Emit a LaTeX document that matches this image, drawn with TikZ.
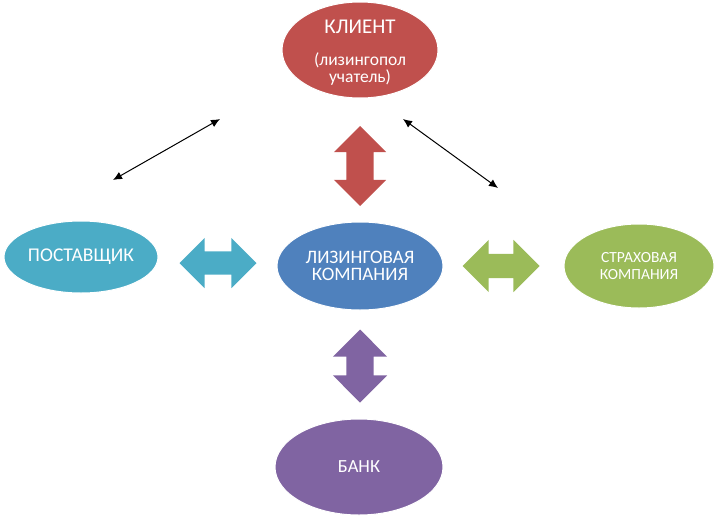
\documentclass[tikz,border=0pt]{standalone}
\usepackage{fontspec}
\setmainfont{Carlito}
\usetikzlibrary{shapes.geometric,shapes.arrows,arrows.meta}
\definecolor{cred}{HTML}{C0504D}
\definecolor{cblue}{HTML}{4F81BD}
\definecolor{ccyan}{HTML}{4BACC6}
\definecolor{cgreen}{HTML}{9BBB59}
\definecolor{cpurple}{HTML}{8064A2}
\tikzset{
  oval/.style={ellipse, inner sep=0pt, text=white, align=center, draw=white, line width=1pt},
  dbl/.style={double arrow, double arrow tip angle=90, inner xsep=0pt},
  thinarr/.style={line width=1pt, {Latex[length=9pt,width=8pt]}-{Latex[length=9pt,width=8pt]}}
}
\begin{document}
\begin{tikzpicture}[x=1pt,y=-1pt]
\useasboundingbox (0,0) rectangle (719,522);
\node[oval, fill=cred, minimum width=156pt, minimum height=96pt, text depth=0pt] (klient) at (360,50) {};
\node[text=white, align=center, font=\fontsize{17.5}{17.5}\selectfont] (ktext) at (360,53)
  {{\fontsize{21}{22}\selectfont КЛИЕНТ}\\[14pt](лизингопол\\учатель)};
\node[oval, fill=cblue, minimum width=166pt, minimum height=88pt, font=\fontsize{19}{17.5}\selectfont] (lk) at (360,266) {ЛИЗИНГОВАЯ\\КОМПАНИЯ};
\node[oval, fill=ccyan, minimum width=154pt, minimum height=72pt, font=\fontsize{19.5}{18}\selectfont] (post) at (81,257) {ПОСТАВЩИК};
\node[oval, fill=cgreen, minimum width=150pt, minimum height=84pt, font=\fontsize{15.5}{17}\selectfont] (strah) at (639,266) {СТРАХОВАЯ\\КОМПАНИЯ};
\node[oval, fill=cpurple, minimum width=168pt, minimum height=96pt, font=\fontsize{18.5}{20}\selectfont] (bank) at (359,467) {БАНК};
\node[dbl, fill=ccyan, minimum height=77pt, inner ysep=11.5pt, double arrow head extend=13.5pt] (a1) at (218,263) {};
\node[dbl, fill=cgreen, minimum height=77pt, inner ysep=12pt, double arrow head extend=14pt] (a2) at (501,266) {};
\node[dbl, fill=cred, minimum height=80pt, inner ysep=13.5pt, double arrow head extend=12.5pt, rotate=90] (a3) at (360,166) {};
\node[dbl, fill=cpurple, minimum height=73pt, inner ysep=13.5pt, double arrow head extend=13.5pt, rotate=90] (a4) at (360,366) {};
\coordinate (l1) at (113,180);
\coordinate (l2) at (220,119);
\coordinate (r1) at (403,119);
\coordinate (r2) at (498,188);
\draw[thinarr] (l1) -- (l2);
\draw[thinarr] (r1) -- (r2);
\end{tikzpicture}
\end{document}
